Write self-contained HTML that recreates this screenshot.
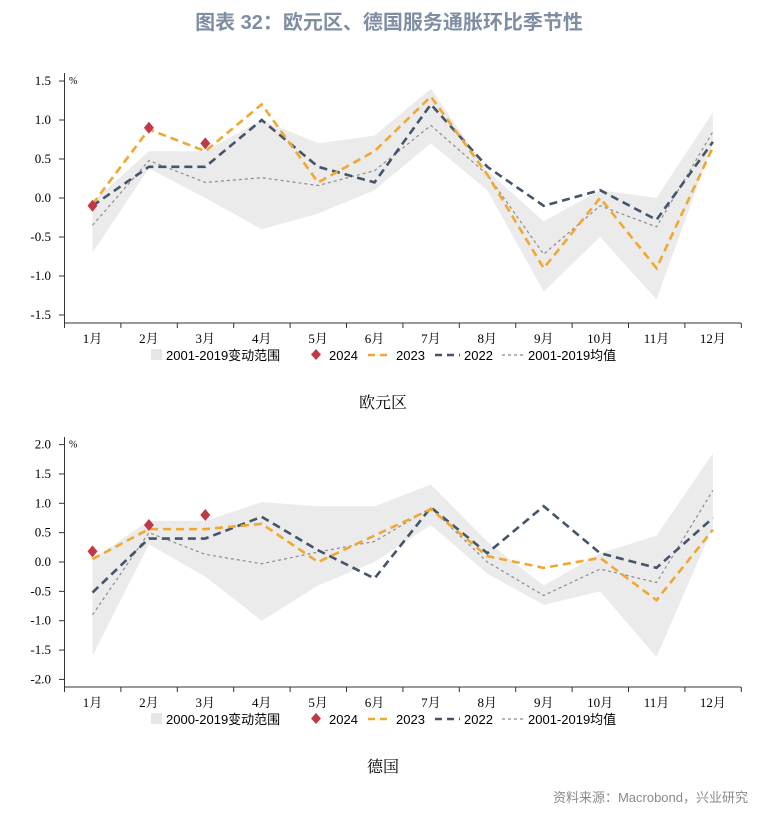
<!DOCTYPE html>
<html><head><meta charset="utf-8">
<style>
body{margin:0;background:#fff;width:767px;height:819px;overflow:hidden;}
svg{display:block}
</style></head><body>
<svg id="s" width="767" height="819" xmlns="http://www.w3.org/2000/svg">
<text x="389" y="29" text-anchor="middle" font-family="Liberation Sans, Noto Sans CJK SC, sans-serif" font-size="20" font-weight="bold" fill="#7f8ea3">图表 32：欧元区、德国服务通胀环比季节性</text>
<text x="383" y="408" text-anchor="middle" font-family="Liberation Serif, Noto Serif CJK SC, serif" font-size="16" fill="#000">欧元区</text>
<text x="383" y="772" text-anchor="middle" font-family="Liberation Serif, Noto Serif CJK SC, serif" font-size="16" fill="#000">德国</text>
<text x="748" y="802" text-anchor="end" font-family="Liberation Sans, Noto Sans CJK SC, sans-serif" font-size="13" fill="#8a8a8a">资料来源：Macrobond，兴业研究</text>
<g id="c1"></g><g id="c2"></g>
</svg>
<script>
const NS="http://www.w3.org/2000/svg";
function el(p,t,a,txt){const e=document.createElementNS(NS,t);for(const k in a)e.setAttribute(k,a[k]);if(txt!==undefined)e.textContent=txt;p.appendChild(e);return e;}
function chart(g,o){
 const X=i=>92.5+56.4*i, Y=v=>o.y0-o.k*v;
 let pts=o.up.map((v,i)=>X(i)+","+Y(v)).concat(o.lo.map((v,i)=>X(i)+","+Y(v)).reverse());
 el(g,"polygon",{points:pts.join(" "),fill:"#ebebeb"});
 const line=(d,c,w,da)=>el(g,"polyline",{points:d.map((v,i)=>X(i)+","+Y(v)).join(" "),fill:"none",stroke:c,"stroke-width":w,"stroke-dasharray":da});
 line(o.avg,"#8c8c8c",1.2,"3,3");
 line(o.y22,"#44546a",2.6,"8,5");
 line(o.y23,"#f0a830",2.6,"8,5");
 o.y24.forEach((v,i)=>{const x=X(i),y=Y(v);el(g,"polygon",{points:`${x},${y-6} ${x+5},${y} ${x},${y+6} ${x-5},${y}`,fill:"#c0394b"});});
 el(g,"line",{x1:64.5,y1:o.top,x2:64.5,y2:o.ax,stroke:"#333","stroke-width":1});
 el(g,"line",{x1:64.5,y1:o.ax,x2:741,y2:o.ax,stroke:"#333","stroke-width":1});
 o.ticks.forEach(v=>{el(g,"line",{x1:59,y1:Y(v),x2:64.5,y2:Y(v),stroke:"#333"});
  el(g,"text",{x:51,y:Y(v)+4,"text-anchor":"end","font-family":"Liberation Serif, serif","font-size":"13"},v.toFixed(1));});
 el(g,"text",{x:69,y:Y(o.ticks[0])+3,"font-family":"Liberation Serif, serif","font-size":"10"},"%");
 for(let k=0;k<=12;k++){const x=64.5+56.4*k;el(g,"line",{x1:x,y1:o.ax,x2:x,y2:o.ax+5,stroke:"#333"});}
 for(let i=0;i<12;i++)el(g,"text",{x:X(i),y:o.ax+20,"text-anchor":"middle","font-family":"Liberation Serif, Noto Serif CJK SC, serif","font-size":"13"},(i+1)+"月");
 const ly=o.ax+37, f={"font-family":"Liberation Sans, Noto Sans CJK SC, sans-serif","font-size":"13"};
 el(g,"rect",{x:151,y:ly-11,width:11,height:11,fill:"#e6e6e6"});
 el(g,"text",Object.assign({x:166,y:ly},f),o.lab);
 el(g,"polygon",{points:`316,${ly-11} 321,${ly-5.5} 316,${ly} 311,${ly-5.5}`,fill:"#c0394b"});
 el(g,"text",Object.assign({x:329,y:ly},f),"2024");
 el(g,"line",{x1:368,y1:ly-5,x2:392,y2:ly-5,stroke:"#f0a830","stroke-width":2.6,"stroke-dasharray":"7,5"});
 el(g,"text",Object.assign({x:396,y:ly},f),"2023");
 el(g,"line",{x1:435,y1:ly-5,x2:460,y2:ly-5,stroke:"#44546a","stroke-width":2.6,"stroke-dasharray":"7,5"});
 el(g,"text",Object.assign({x:464,y:ly},f),"2022");
 el(g,"line",{x1:502,y1:ly-5,x2:526,y2:ly-5,stroke:"#8c8c8c","stroke-width":1.2,"stroke-dasharray":"3,3"});
 el(g,"text",Object.assign({x:528,y:ly},f),"2001-2019均值");
}
chart(document.getElementById("c1"),{y0:198,k:78,top:73,ax:323,ticks:[1.5,1,0.5,0,-0.5,-1,-1.5],lab:"2001-2019变动范围",
 up:[-0.05,0.6,0.6,1.0,0.7,0.8,1.4,0.35,-0.3,0.1,0.0,1.1],
 lo:[-0.7,0.38,0.0,-0.4,-0.2,0.1,0.7,0.1,-1.2,-0.5,-1.3,0.7],
 avg:[-0.35,0.48,0.2,0.26,0.16,0.35,0.93,0.3,-0.72,-0.1,-0.37,0.85],
 y23:[-0.08,0.88,0.6,1.2,0.2,0.6,1.3,0.3,-0.9,0.0,-0.9,0.65],
 y22:[-0.1,0.4,0.4,1.0,0.4,0.2,1.2,0.4,-0.1,0.1,-0.28,0.72],
 y24:[-0.1,0.9,0.7]});
chart(document.getElementById("c2"),{y0:562,k:58.7,top:437,ax:687,ticks:[2,1.5,1,0.5,0,-0.5,-1,-1.5,-2],lab:"2000-2019变动范围",
 up:[0.05,0.7,0.7,1.02,0.95,0.95,1.32,0.35,-0.4,0.15,0.45,1.85],
 lo:[-1.6,0.3,-0.25,-1.0,-0.4,0.0,0.63,-0.2,-0.73,-0.5,-1.62,0.6],
 avg:[-0.9,0.5,0.13,-0.03,0.17,0.35,0.92,0.0,-0.57,-0.12,-0.35,1.22],
 y23:[0.05,0.56,0.56,0.65,0.0,0.45,0.9,0.1,-0.1,0.07,-0.65,0.55],
 y22:[-0.52,0.4,0.4,0.77,0.2,-0.28,0.93,0.15,0.95,0.15,-0.1,0.75],
 y24:[0.18,0.63,0.8]});
</script>
</body></html>
